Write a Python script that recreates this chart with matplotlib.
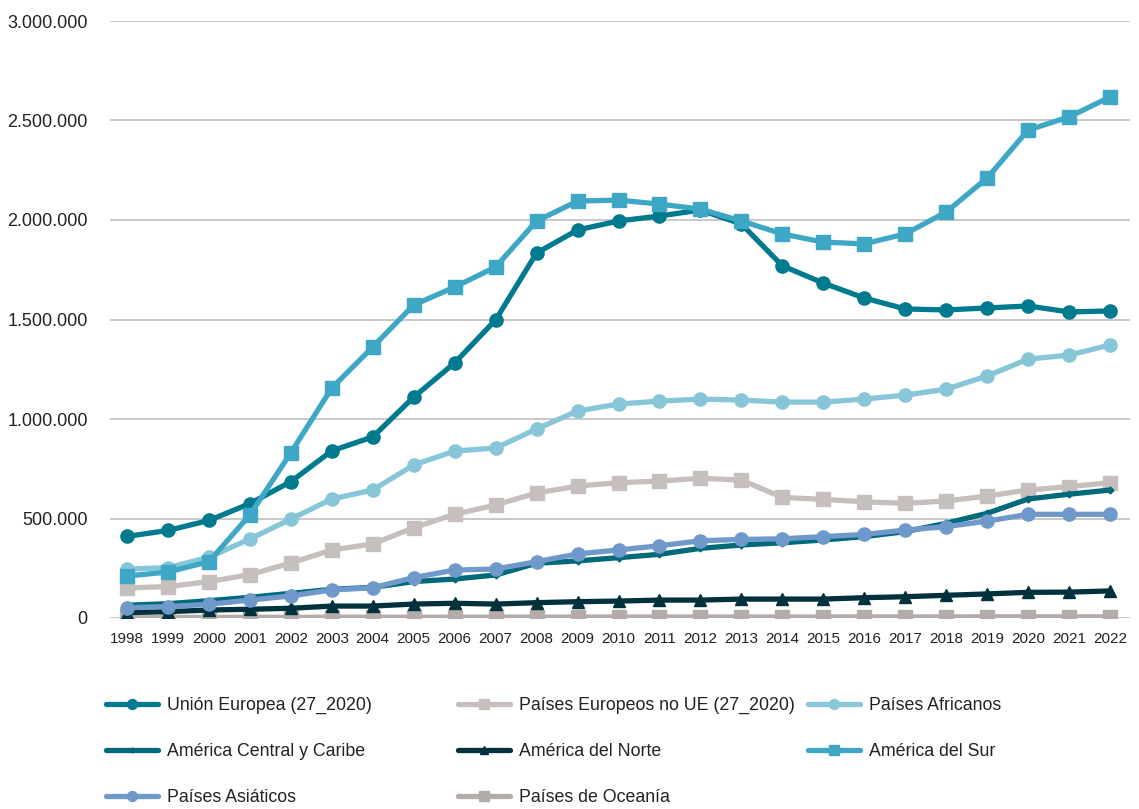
import matplotlib
matplotlib.use("Agg")
import matplotlib.pyplot as plt
from matplotlib.ticker import FuncFormatter
from matplotlib.lines import Line2D

plt.rcParams['font.family'] = ['Liberation Sans', 'DejaVu Sans']

years = list(range(1998, 2023))

union_europea = [410000, 440000, 490000, 575000, 685000, 840000, 910000, 1110000, 1282000, 1498000,
                 1834000, 1950000, 1995000, 2020000, 2050000, 1980000, 1770000, 1683000, 1608000, 1553000,
                 1548000, 1558000, 1568000, 1538000, 1543000]
europeos_no_ue = [151000, 158000, 183000, 218000, 276000, 342000, 372000, 454000, 521000, 568000,
                  628000, 663000, 680000, 688000, 702000, 693000, 606000, 596000, 584000, 576000,
                  588000, 613000, 643000, 660000, 680000]
africanos = [246000, 253000, 305000, 397000, 497000, 598000, 643000, 769000, 839000, 854000,
             950000, 1040000, 1075000, 1090000, 1100000, 1095000, 1085000, 1085000, 1100000, 1120000,
             1150000, 1216000, 1301000, 1321000, 1372000]
america_central = [64000, 72000, 87000, 104000, 124000, 144000, 154000, 183000, 196000, 216000,
                   275000, 287000, 303000, 320000, 350000, 367000, 378000, 392000, 409000, 434000,
                   476000, 526000, 598000, 622000, 643000]
america_norte = [27000, 32000, 40000, 44000, 49000, 60000, 60000, 70000, 74000, 70000,
                 77000, 82000, 85000, 90000, 90000, 95000, 95000, 95000, 102000, 107000,
                 114000, 121000, 129000, 130000, 136000]
america_sur = [211000, 231000, 283000, 518000, 830000, 1156000, 1362000, 1573000, 1663000, 1764000,
               1995000, 2095000, 2100000, 2080000, 2055000, 1995000, 1930000, 1889000, 1880000, 1930000,
               2040000, 2211000, 2452000, 2518000, 2618000]
asiaticos = [52000, 57000, 69000, 90000, 111000, 141000, 152000, 203000, 241000, 246000,
             283000, 322000, 342000, 363000, 388000, 395000, 398000, 409000, 420000, 442000,
             459000, 487000, 521000, 521000, 521000]
oceania = [3000, 3000, 3000, 3500, 3500, 4000, 4000, 4000, 4000, 4500,
           4500, 4500, 5000, 5000, 5000, 5000, 5000, 5000, 5500, 5500,
           5500, 6000, 6000, 6000, 6000]

labels = ["Unión Europea (27_2020)", "Países Europeos no UE (27_2020)", "Países Africanos",
          "América Central y Caribe", "América del Norte", "América del Sur",
          "Países Asiáticos", "Países de Oceanía"]
series = [union_europea, europeos_no_ue, africanos, america_central, america_norte,
          america_sur, asiaticos, oceania]
colors = ["#007A8F", "#C7BFBD", "#86C6D8", "#00697A", "#00313C", "#3FA7C6", "#7099CB", "#B4ACA9"]
markers = ["o", "s", "o", "D", "^", "s", "o", "s"]
msizes = [9.5, 10, 9.5, 3.5, 8.5, 10, 9.5, 10]
zorders = [5, 3, 4, 3, 3, 6, 4, 2]

fig = plt.figure(figsize=(11.39, 8.09), dpi=100)
ax = fig.add_axes([110/1139, 1 - 618/809, (1130 - 110)/1139, (618 - 21)/809])

for s, lab, c, m, ms, z in zip(series, labels, colors, markers, msizes, zorders):
    ax.plot(years, s, color=c, marker=m, markersize=ms, linewidth=3.8, label=lab,
            zorder=z, solid_joinstyle='round', solid_capstyle='round')

ax.set_ylim(0, 3000000)
ax.set_xlim(1998 - 17/40.96, 2022 + 20/40.96)
ax.set_yticks(range(0, 3000001, 500000))
ax.yaxis.set_major_formatter(FuncFormatter(lambda v, p: f"{int(v):,}".replace(",", ".")))
ax.set_xticks(years)
ax.grid(axis='y', color='#C8C8C8', linewidth=1.4, zorder=0)
ax.set_axisbelow(True)
for sp in ax.spines.values():
    sp.set_visible(False)
ax.tick_params(axis='both', length=0, colors='#222222')
ax.tick_params(axis='y', labelsize=13, pad=16)
ax.tick_params(axis='x', labelsize=11, pad=10)

cols = [[0, 3, 6], [1, 4, 7], [2, 5]]
xpos = [106, 458, 808]
for ci, idxs in enumerate(cols):
    hs = [Line2D([], [], color=colors[i], marker=markers[i], markersize=msizes[i] * 0.75,
                 linewidth=3.8, solid_capstyle='round') for i in idxs]
    fig.legend(hs, [labels[i] for i in idxs], loc='upper left',
               bbox_to_anchor=(xpos[ci]/1139, 1 - 697/809), frameon=False,
               fontsize=12.8, handlelength=2.9, handletextpad=0.55, labelspacing=1.62,
               labelcolor='#222222', borderaxespad=0, borderpad=0)

fig.savefig("out.png", dpi=100, facecolor='white')
